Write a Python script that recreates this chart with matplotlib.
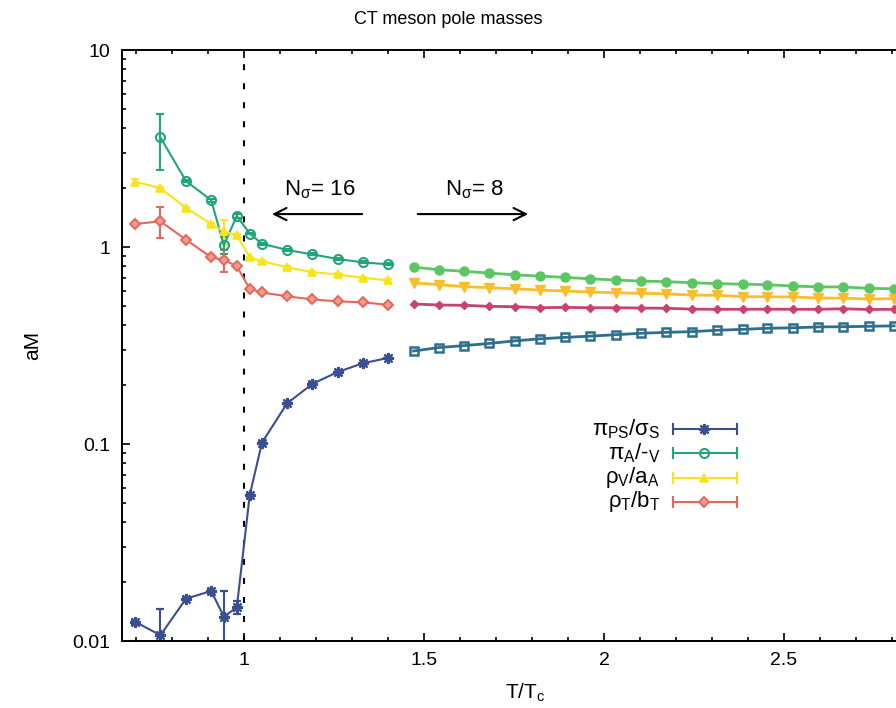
import matplotlib.pyplot as plt
from matplotlib.lines import Line2D

plt.rcParams['font.family'] = ['Liberation Sans', 'DejaVu Sans']
plt.rcParams['mathtext.fontset'] = 'custom'
plt.rcParams['mathtext.rm'] = 'Liberation Sans'
plt.rcParams['mathtext.it'] = 'Liberation Sans'
plt.rcParams['mathtext.bf'] = 'Liberation Sans:bold'
plt.rcParams['lines.scale_dashes'] = False

# N_sigma = 16 lattice
t16 = [0.697, 0.768, 0.839, 0.909, 0.944, 0.980, 1.016, 1.050, 1.120, 1.190, 1.260, 1.330, 1.400]
ps16 = [0.01254, 0.0107, 0.0164, 0.01795, 0.0133, 0.0148, 0.0551, 0.1017, 0.161, 0.202, 0.232, 0.257, 0.2735]
ps16_err = [0.0003, 0.0039, 0.0003, 0.0005, 0.0047, 0.0011, 0.001, 0.001, 0.001, 0.001, 0.001, 0.001, 0.001]
ax16 = [3.6, 2.16, 1.73, 1.02, 1.44, 1.17, 1.04, 0.966, 0.918, 0.87, 0.836, 0.817]
ax16_err = [1.15, 0.03, 0.03, 0.1, 0.03, 0.01, 0.01, 0.01, 0.01, 0.01, 0.01, 0.01]
vec16 = [2.15, 1.99, 1.58, 1.31, 1.2, 1.15, 0.885, 0.848, 0.789, 0.745, 0.726, 0.698, 0.678]
vec16_err = [0.07, 0.02, 0.02, 0.02, 0.17, 0.01, 0.01, 0.01, 0.01, 0.01, 0.01, 0.01, 0.01]
ten16 = [1.31, 1.35, 1.09, 0.887, 0.86, 0.80, 0.613, 0.588, 0.562, 0.542, 0.53, 0.524, 0.509]
ten16_err = [0.02, 0.24, 0.02, 0.02, 0.11, 0.01, 0.01, 0.01, 0.01, 0.01, 0.01, 0.01, 0.01]

# N_sigma = 8 lattice
t8 = [1.471, 1.542, 1.612, 1.681, 1.752, 1.822, 1.893, 1.962, 2.033, 2.103,
      2.173, 2.244, 2.314, 2.385, 2.454, 2.524, 2.594, 2.665, 2.735, 2.806]
ps8 = [0.2966, 0.309, 0.316, 0.324, 0.334, 0.342, 0.348, 0.353, 0.359, 0.365,
       0.369, 0.372, 0.378, 0.382, 0.387, 0.389, 0.393, 0.394, 0.396, 0.398]
ax8 = [0.791, 0.767, 0.753, 0.738, 0.723, 0.712, 0.701, 0.690, 0.680, 0.672,
       0.667, 0.659, 0.652, 0.648, 0.644, 0.634, 0.628, 0.627, 0.617, 0.614]
vec8 = [0.659, 0.644, 0.629, 0.622, 0.614, 0.605, 0.598, 0.591, 0.586, 0.582,
        0.579, 0.570, 0.569, 0.560, 0.559, 0.558, 0.551, 0.550, 0.545, 0.547]
ten8 = [0.514, 0.508, 0.506, 0.500, 0.498, 0.492, 0.494, 0.492, 0.492, 0.490,
        0.489, 0.484, 0.483, 0.483, 0.484, 0.483, 0.483, 0.486, 0.482, 0.483]

labels = [r'$\pi_{\rm PS}/\sigma_{\rm S}$', r'$\pi_{\rm A}$/-$_{\rm V}$',
          r'$\rho_{\rm V}/a_{\rm A}$', r'$\rho_{\rm T}/b_{\rm T}$']
colors16 = ['#3a4e92', '#22a47c', '#f6e41c', '#e6675a']
colors8 = ['#2d6f8e', '#5cc662', '#fbbd2c', '#c9416f']
asterisk = (8, 2, 0)
eb = dict(lw=1.5, capsize=3, elinewidth=1.5, capthick=1.5)

fig = plt.figure(figsize=(8.96, 7.08), dpi=100)
ax = fig.add_axes([0.1357, 0.0946, 0.900, 0.8347])

# left set, with error bars
ax.errorbar(t16, ps16, yerr=ps16_err, color=colors16[0], marker=asterisk, ms=8, mew=1.6, **eb)
ax.errorbar(t16[1:], ax16, yerr=ax16_err, color=colors16[1], marker='o', ms=6.5, mfc='none', mew=1.5, **eb)
ax.errorbar(t16, vec16, yerr=vec16_err, color=colors16[2], marker='^', ms=5.5, mew=1.2, **eb)
ax.errorbar(t16, ten16, yerr=ten16_err, color=colors16[3], marker='D', ms=5.5, mfc='#f19a8e', mew=1.4, **eb)

# right set
ax.plot(t8, ps8, color=colors8[0], marker='s', ms=6, mfc='none', mew=1.8, lw=2)
ax.plot(t8, ax8, color=colors8[1], marker='o', ms=6.5, lw=2)
ax.plot(t8, vec8, color=colors8[2], marker='v', ms=7.5, lw=2)
ax.plot(t8, ten8, color=colors8[3], marker='D', ms=4.5, lw=2)

ax.axvline(1.0, color='black', lw=1.5, ls=(0, (4.3, 9.4)))

ax.annotate('', xy=(1.07, 1.47), xytext=(1.336, 1.47),
            arrowprops=dict(arrowstyle='->', lw=1.5, mutation_scale=22, color='black'))
ax.annotate('', xy=(1.797, 1.47), xytext=(1.475, 1.47),
            arrowprops=dict(arrowstyle='->', lw=1.5, mutation_scale=22, color='black'))
ax.text(1.21, 1.95, r'N$_\sigma$= 16', fontsize=16, ha='center', va='center')
ax.text(1.64, 1.95, r'N$_\sigma$= 8', fontsize=16, ha='center', va='center')

ax.set_yscale('log')
ax.set_xlim(0.66, 2.9)
ax.set_ylim(0.01, 10)
ax.set_xticks([1, 1.5, 2, 2.5])
ax.set_xticklabels(['1', '1.5', '2', '2.5'])
ax.set_xticks([0.7, 0.8, 0.9, 1.1, 1.2, 1.3, 1.4, 1.6, 1.7, 1.8, 1.9,
               2.1, 2.2, 2.3, 2.4, 2.6, 2.7, 2.8], minor=True)
ax.set_yticks([0.01, 0.1, 1, 10])
ax.set_yticklabels(['0.01', '0.1', '1', '10'])
ax.tick_params(which='both', direction='in', top=True, right=True, labelsize=14, width=1.2)
ax.tick_params(which='major', length=6, pad=8)
ax.tick_params(which='minor', length=3)
for s in ax.spines.values():
    s.set_linewidth(1.4)

ax.set_xlabel(r'T/T$_{\rm c}$', fontsize=15, labelpad=9)
ax.set_ylabel('aM', fontsize=15, labelpad=22)
fig.text(0.5, 0.972, 'CT meson pole masses', fontsize=13, ha='center', va='center')

# key, drawn in gnuplot fashion: text, then a capped bar with the symbol
key_y = [429, 453, 478, 502]
key_style = [dict(marker=asterisk, ms=8, mew=1.6, mfc=colors16[0]),
             dict(marker='o', ms=6.5, mew=1.5, mfc='none'),
             dict(marker='^', ms=5.5, mew=1.2, mfc=colors16[2]),
             dict(marker='D', ms=5.5, mew=1.4, mfc='#f19a8e')]
for lab, c, yp, st in zip(labels, colors16, key_y, key_style):
    fy = 1 - yp / 708
    fig.text(660 / 896, fy, lab, fontsize=16, ha='right', va='center')
    fig.add_artist(Line2D([673 / 896, 737 / 896], [fy, fy], color=c, lw=1.5,
                          transform=fig.transFigure))
    fig.add_artist(Line2D([673 / 896, 737 / 896], [fy, fy], color=c, lw=0, marker='|',
                          ms=8, mew=1.5, transform=fig.transFigure))
    fig.add_artist(Line2D([704 / 896], [fy], color=c, mec=c, lw=0,
                          transform=fig.transFigure, **st))

fig.savefig('out.png', dpi=100)
